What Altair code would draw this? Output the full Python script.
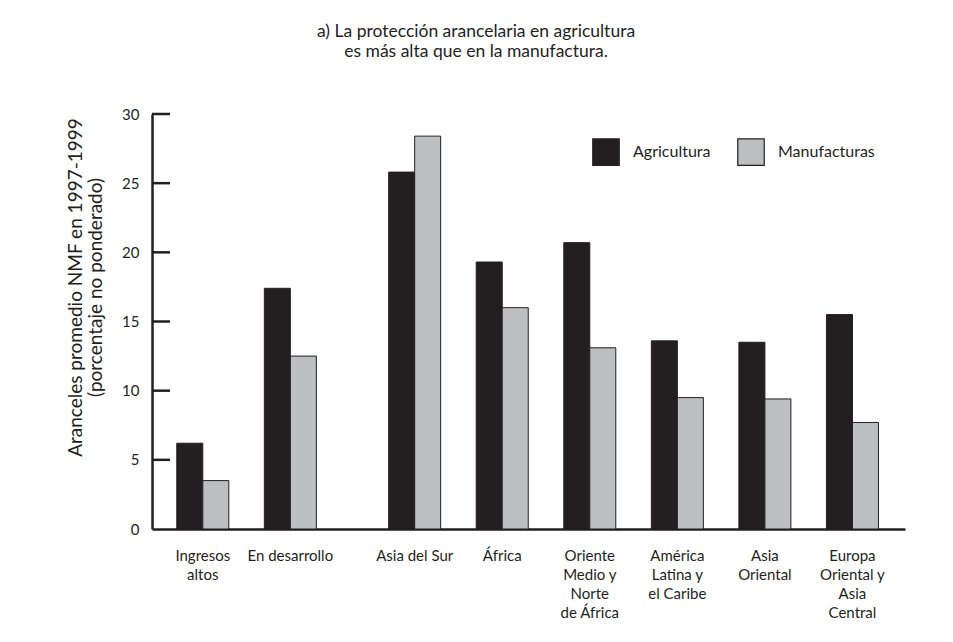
import altair as alt
import pandas as pd

# ---------------- data ----------------
categorias = [
    "Ingresos\naltos",
    "En desarrollo",
    "Asia del Sur",
    "África",
    "Oriente\nMedio y\nNorte\nde África",
    "América\nLatina y\nel Caribe",
    "Asia\nOriental",
    "Europa\nOriental y\nAsia\nCentral",
]
agricultura = [6.2, 17.4, 25.8, 19.3, 20.7, 13.6, 13.5, 15.5]
manufacturas = [3.5, 12.5, 28.4, 16.0, 13.1, 9.5, 9.4, 7.7]
series = ["Agricultura", "Manufacturas"]
y_ticks = [0, 5, 10, 15, 20, 25, 30]

titulo = "a) La protección arancelaria en agricultura\nes más alta que en la manufactura."
titulo_y = ["Aranceles promedio NMF en 1997-1999",
            "(porcentaje no ponderado)"]

# ---------------- layout helpers ----------------
GAP = 0.42      # extra space between the two aggregate groups and the regions
BW = 0.297      # bar width in category units
FONT = "Lato"
INK = "#231f20"
GRAY = "#bcbec0"

pos = [i + (GAP if i >= 2 else 0) for i in range(len(categorias))]

rows = []
for c, p, a, m in zip(categorias, pos, agricultura, manufacturas):
    rows.append({"cat": c, "sector": series[0], "x0": p - BW, "x1": p, "valor": a})
    rows.append({"cat": c, "sector": series[1], "x0": p, "x1": p + BW, "valor": m})
bars_df = pd.DataFrame(rows)
labels_df = pd.DataFrame({"cat": categorias, "x0": pos})
ticks_df = pd.DataFrame({"valor": [t for t in y_ticks if t > 0]})
title_df = pd.DataFrame({"t": [titulo]})

X = alt.X("x0:Q",
          scale=alt.Scale(domain=[-0.58, 8.02], nice=False, zero=False),
          axis=alt.Axis(labels=False, ticks=False, grid=False, title=None,
                        domainColor=INK, domainWidth=2.5))
Y = alt.Y("valor:Q",
          scale=alt.Scale(domain=[0, 30], nice=False),
          axis=alt.Axis(values=y_ticks, ticks=False, tickSize=0, grid=False,
                        labelPadding=13, labelFontSize=15, labelFont=FONT,
                        labelColor=INK, domainColor=INK, domainWidth=2.5,
                        title=titulo_y, titleFont=FONT, titleFontSize=19,
                        titleFontWeight="normal", titleColor=INK,
                        titleAngle=270, titleAlign="center",
                        titleBaseline="alphabetic", titleLineHeight=20,
                        titleX=-71, titleY=173))

bars = alt.Chart(bars_df).mark_bar(stroke=INK, strokeWidth=1).encode(
    x=X,
    x2="x1:Q",
    y=Y,
    y2=alt.datum(0),
    color=alt.Color(
        "sector:N",
        scale=alt.Scale(domain=series, range=[INK, GRAY]),
        legend=alt.Legend(orient="none", legendX=440, legendY=24,
                          direction="horizontal", title=None,
                          symbolType="square", symbolSize=700,
                          symbolStrokeColor=INK, symbolStrokeWidth=1.2,
                          symbolOpacity=1,
                          labelFont=FONT, labelFontSize=16, labelColor=INK,
                          labelOffset=13, columnPadding=24),
    ),
)

ticks = alt.Chart(ticks_df).mark_rule(color=INK, strokeWidth=2.5).encode(
    y=Y,
    x=alt.value(0),
    x2=alt.value(18),
)

cat_labels = alt.Chart(labels_df).mark_text(
    font=FONT, fontSize=15, color=INK, align="center",
    baseline="alphabetic", lineBreak="\n", lineHeight=19,
).encode(
    x=X,
    y=alt.value(447),
    text="cat:N",
)

title_mark = alt.Chart(title_df).mark_text(
    font=FONT, fontSize=17.5, color=INK, align="center",
    baseline="alphabetic", lineBreak="\n", lineHeight=20,
).encode(
    x=alt.value(324),
    y=alt.value(-77),
    text="t:N",
)

chart = alt.layer(bars, ticks, cat_labels, title_mark).properties(
    width=753,
    height=415,
    autosize=alt.AutoSizeParams(type="none"),
    padding={"left": 144, "top": 106, "right": 20, "bottom": 110},
    background="white",
).configure_view(stroke=None)

chart.save("out.html", embed_options={"renderer": "svg", "actions": False})
